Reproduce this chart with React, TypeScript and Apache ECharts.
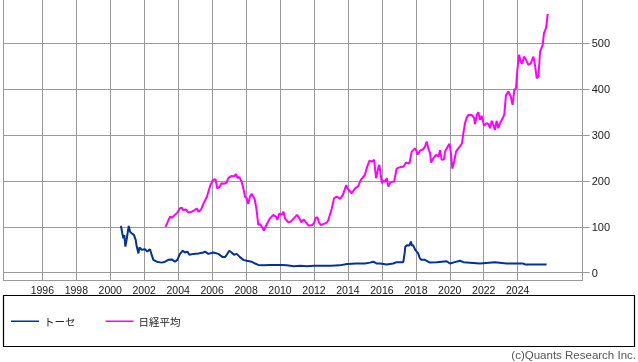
import React, { useEffect, useRef } from 'react';
import * as echarts from 'echarts';

const xTickYears = [1996, 1998, 2000, 2002, 2004, 2006, 2008, 2010, 2012, 2014, 2016, 2018, 2020, 2022, 2024];
const yTickValues = [0, 100, 200, 300, 400, 500];
const seriesNames = ['トーセ', '日経平均'];
const copyright = '(c)Quants Research Inc.';

const toseData: [number, number][] = [
  [2000.63, 102], [2000.71, 86], [2000.77, 75], [2000.83, 82], [2000.89, 57], [2000.97, 73], [2001.09, 102],
  [2001.17, 89], [2001.26, 86], [2001.4, 82], [2001.5, 71], [2001.56, 57], [2001.66, 42], [2001.72, 55],
  [2001.85, 50], [2002.05, 51], [2002.18, 46], [2002.34, 51], [2002.44, 39], [2002.54, 28], [2002.74, 24],
  [2003.03, 22], [2003.23, 24], [2003.42, 28], [2003.62, 29], [2003.81, 24], [2003.95, 28], [2004.11, 41],
  [2004.27, 48], [2004.4, 44], [2004.54, 46], [2004.66, 39], [2004.9, 41], [2005.19, 42], [2005.48, 44],
  [2005.58, 46], [2005.78, 41], [2006.07, 44], [2006.37, 41], [2006.62, 34], [2006.76, 34], [2006.86, 39],
  [2007.01, 48], [2007.15, 44], [2007.29, 39], [2007.45, 41], [2007.64, 34], [2007.84, 28], [2008.04, 26],
  [2008.33, 24], [2008.53, 20], [2008.72, 17], [2009.02, 16], [2009.41, 17], [2009.81, 17], [2010.1, 17],
  [2010.4, 16], [2010.8, 14], [2011.2, 15], [2011.6, 14], [2012.0, 15], [2012.5, 15], [2013.0, 15],
  [2013.5, 16], [2013.95, 19], [2014.5, 20], [2015.0, 20], [2015.3, 22], [2015.5, 24], [2015.7, 20],
  [2015.89, 20], [2016.28, 18], [2016.67, 20], [2016.87, 23], [2017.26, 23], [2017.34, 42], [2017.38, 57],
  [2017.5, 60], [2017.62, 59], [2017.71, 68], [2017.78, 59], [2017.84, 60], [2017.95, 51], [2018.05, 46],
  [2018.14, 42], [2018.24, 31], [2018.34, 28], [2018.54, 28], [2018.64, 26], [2018.83, 22], [2019.23, 23],
  [2019.82, 25], [2020.01, 20], [2020.3, 23], [2020.6, 26], [2020.8, 23], [2021.78, 20], [2022.66, 23],
  [2023.35, 20], [2024.33, 20], [2024.43, 18], [2025.7, 18],
];

const nikkeiData: [number, number][] = [
  [2003.26, 100], [2003.4, 112], [2003.52, 122], [2003.65, 120], [2003.81, 126], [2003.95, 131], [2004.1, 140],
  [2004.2, 142], [2004.3, 136], [2004.45, 138], [2004.6, 131], [2004.8, 133], [2004.95, 136], [2005.1, 140],
  [2005.2, 133], [2005.35, 138], [2005.5, 151], [2005.7, 166], [2005.9, 191], [2006.05, 202], [2006.2, 204],
  [2006.3, 184], [2006.45, 187], [2006.55, 195], [2006.7, 194], [2006.85, 196], [2006.95, 206], [2007.15, 211],
  [2007.3, 210], [2007.4, 215], [2007.5, 206], [2007.6, 209], [2007.74, 198], [2007.85, 182], [2007.94, 166],
  [2008.03, 162], [2008.13, 150], [2008.23, 166], [2008.33, 172], [2008.45, 164], [2008.52, 158], [2008.62, 137],
  [2008.72, 104], [2008.82, 106], [2008.92, 100], [2009.05, 92], [2009.2, 104], [2009.4, 118], [2009.6, 126],
  [2009.76, 122], [2009.84, 115], [2009.96, 129], [2010.1, 126], [2010.2, 133], [2010.3, 118], [2010.5, 109],
  [2010.65, 112], [2010.8, 118], [2011.0, 126], [2011.15, 118], [2011.25, 110], [2011.4, 116], [2011.5, 111],
  [2011.7, 102], [2011.9, 104], [2012.0, 108], [2012.1, 119], [2012.2, 121], [2012.3, 109], [2012.4, 104],
  [2012.55, 106], [2012.75, 109], [2012.85, 115], [2013.05, 140], [2013.18, 162], [2013.34, 166], [2013.54, 161],
  [2013.7, 169], [2013.9, 191], [2013.97, 184], [2014.13, 177], [2014.22, 173], [2014.42, 184], [2014.6, 188],
  [2014.75, 202], [2015.0, 213], [2015.1, 227], [2015.26, 244], [2015.4, 242], [2015.54, 246], [2015.66, 206],
  [2015.8, 230], [2015.85, 235], [2016.0, 195], [2016.1, 200], [2016.19, 198], [2016.29, 206], [2016.38, 188],
  [2016.5, 197], [2016.58, 198], [2016.72, 198], [2016.87, 227], [2017.0, 229], [2017.17, 231], [2017.27, 231],
  [2017.42, 240], [2017.62, 238], [2017.76, 264], [2017.95, 271], [2018.05, 264], [2018.1, 257], [2018.25, 266],
  [2018.44, 269], [2018.54, 275], [2018.64, 286], [2018.74, 271], [2018.84, 260], [2018.9, 240], [2019.03, 249],
  [2019.19, 257], [2019.33, 253], [2019.43, 267], [2019.52, 246], [2019.66, 247], [2019.72, 264], [2019.82, 271],
  [2019.98, 281], [2020.07, 260], [2020.15, 227], [2020.25, 240], [2020.37, 264], [2020.5, 271], [2020.6, 275],
  [2020.72, 282], [2020.8, 304], [2020.9, 326], [2021.0, 338], [2021.1, 344], [2021.29, 344], [2021.43, 337],
  [2021.49, 324], [2021.59, 344], [2021.68, 350], [2021.78, 333], [2021.88, 342], [2022.02, 320], [2022.17, 326],
  [2022.27, 324], [2022.37, 315], [2022.47, 331], [2022.57, 322], [2022.66, 311], [2022.76, 331], [2022.86, 315],
  [2022.96, 326], [2023.06, 333], [2023.21, 344], [2023.31, 387], [2023.45, 395], [2023.59, 384], [2023.7, 366],
  [2023.8, 398], [2023.9, 402], [2023.98, 442], [2024.08, 475], [2024.18, 460], [2024.27, 456], [2024.37, 471],
  [2024.49, 464], [2024.63, 453], [2024.77, 456], [2024.92, 471], [2025.02, 453], [2025.12, 424], [2025.22, 427],
  [2025.32, 482], [2025.47, 496], [2025.55, 522], [2025.67, 533], [2025.77, 564],
];

const GRID_COLOR = '#9a9a9a';
const FONT = '"Liberation Sans", Arial, sans-serif';
const NARROW = '"Liberation Sans Narrow", "Liberation Sans", Arial, sans-serif';

export default function App() {
  const ref = useRef<HTMLDivElement>(null);
  useEffect(() => {
    const chart = echarts.init(ref.current!, null, { renderer: 'svg' });
    chart.setOption({
      animation: false,
      grid: { left: 3.3, right: 55.3, top: 0, bottom: 82, containLabel: false },
      xAxis: {
        type: 'value',
        min: 1993.7,
        max: 2027.83,
        axisLine: { show: true, onZero: false, lineStyle: { color: GRID_COLOR, width: 1 } },
        axisTick: { show: false, customValues: xTickYears },
        splitLine: { show: true, lineStyle: { color: GRID_COLOR, width: 1 } },
        axisLabel: {
          customValues: xTickYears,
          formatter: (v: number) => String(v),
          fontSize: 10.5,
          color: '#222',
          margin: 4,
          fontFamily: NARROW,
        },
      },
      yAxis: [
        {
          type: 'value',
          position: 'right',
          min: -15.9,
          max: 594.4,
          axisLine: { show: true, onZero: false, lineStyle: { color: GRID_COLOR, width: 1 } },
          axisTick: { show: true, length: 7, customValues: yTickValues, lineStyle: { color: GRID_COLOR } },
          splitLine: { show: true, lineStyle: { color: GRID_COLOR, width: 1 } },
          axisLabel: { customValues: yTickValues, margin: 9, fontSize: 11, color: '#222', fontFamily: FONT },
        },
        {
          type: 'value',
          position: 'left',
          min: -15.9,
          max: 594.4,
          axisLine: { show: true, onZero: false, lineStyle: { color: GRID_COLOR, width: 1 } },
          axisTick: { show: false },
          splitLine: { show: false },
          axisLabel: { show: false },
        },
      ],
      legend: {
        left: 6,
        top: 311,
        icon: 'rect',
        itemWidth: 28,
        itemHeight: 1.5,
        itemGap: 30,
        textStyle: { fontSize: 10.5, color: '#222', fontFamily: '"Noto Sans CJK JP", sans-serif' },
        data: seriesNames,
      },
      series: [
        {
          name: seriesNames[0],
          type: 'line',
          data: toseData,
          showSymbol: false,
          color: '#003399',
          lineStyle: { width: 2, color: '#003399' },
          z: 3,
        },
        {
          name: seriesNames[1],
          type: 'line',
          data: nikkeiData,
          showSymbol: false,
          color: '#ff00ff',
          lineStyle: { width: 2, color: '#ff00ff' },
          z: 3,
        },
      ],
      graphic: [
        {
          type: 'rect',
          shape: { x: 3.5, y: 295.5, width: 631, height: 51 },
          style: { fill: 'none', stroke: '#000', lineWidth: 1.2 },
          silent: true,
        },
        {
          type: 'text',
          style: {
            text: copyright,
            x: 636,
            y: 355,
            align: 'right',
            verticalAlign: 'middle',
            fontSize: 11.5,
            fill: '#555',
            fontFamily: FONT,
          },
          silent: true,
        },
      ],
    });
    return () => chart.dispose();
  }, []);
  return <div ref={ref} style={{ position: 'fixed', left: 0, top: 0, width: 638, height: 362 }} />;
}
